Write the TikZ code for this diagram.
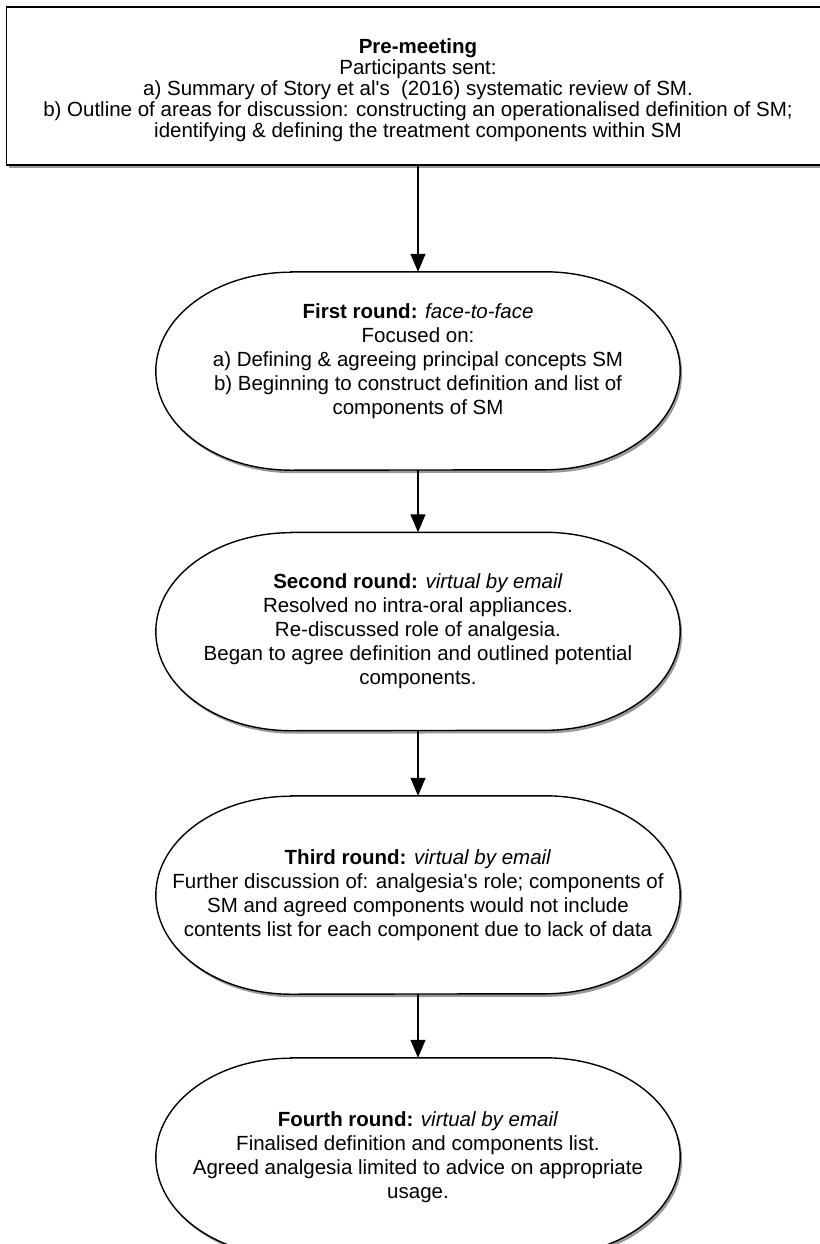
\documentclass[tikz,border=0pt]{standalone}
\usepackage{fontspec}
\setmainfont{Liberation Sans}
\usetikzlibrary{arrows.meta,shadows,backgrounds}

\tikzset{
  topbox/.style={draw, line width=1.4pt, fill=white, minimum width=823pt, minimum height=158pt,
    align=center, font=\fontsize{20.5}{21}\selectfont,
    drop shadow={shadow xshift=2pt, shadow yshift=-3pt, fill=black, opacity=0.4}},
  stagebox/.style={minimum width=524pt, minimum height=198pt, inner sep=0pt,
    align=center, font=\fontsize{20.5}{24}\selectfont},
  stageline/.style={draw, line width=1.4pt, fill=white,
    drop shadow={shadow xshift=2pt, shadow yshift=-3pt, fill=black, opacity=0.4}},
  flow/.style={line width=1.3pt, -{Triangle[length=18pt,width=15pt]}}
}

\begin{document}
\begin{tikzpicture}[x=1pt,y=-1pt]
    \useasboundingbox (0,0) rectangle (819,1244);

    % Подготовка
    \node[topbox] (pre) at (418,86) {\rule{0pt}{23pt}\textbf{Pre-meeting}\\
        Participants sent:\\
        a) Summary of Story et al\textquotesingle s~ (2016) systematic review of SM.\\
        b) Outline of areas for discussion: constructing an operationalised definition of SM;\\
        identifying \& defining the treatment components within SM};

    % Раунды
    \node[stagebox] (r1) at (418,371) {\textbf{First round:} \textit{face-to-face}\\
        Focused on:\\
        a) Defining \& agreeing principal concepts SM\\
        b) Beginning to construct definition and list of\\
        components of SM\\ \mbox{}};
    \node[stagebox] (r2) at (418,631.5) {\textbf{Second round:} \textit{virtual by email}\\
        Resolved no intra-oral appliances.\\
        Re-discussed role of analgesia.\\
        Began to agree definition and outlined potential\\
        components.};
    \node[stagebox] (r3) at (418,895) {\textbf{Third round:} \textit{virtual by email}\\
        Further discussion of: analgesia\textquotesingle s role; components of\\
        SM and agreed components would not include\\
        contents list for each component due to lack of data};
    \node[stagebox] (r4) at (418,1157) {\textbf{Fourth round:} \textit{virtual by email}\\
        Finalised definition and components list.\\
        Agreed analgesia limited to advice on appropriate\\
        usage.};

    % Контуры раундов
    \begin{scope}[on background layer]
        \foreach \r in {r1,r2,r3,r4}
            \path[stageline] ([xshift=135pt]\r.north west) -- ([xshift=-135pt]\r.north east)
                arc[start angle=90, end angle=-90, x radius=135pt, y radius=99pt]
                -- ([xshift=135pt]\r.south west)
                arc[start angle=270, end angle=90, x radius=135pt, y radius=99pt] -- cycle;
    \end{scope}

    % Стрелки
    \draw[flow] (pre.south) -- (r1.north);
    \draw[flow] (r1.south) -- (r2.north);
    \draw[flow] (r2.south) -- (r3.north);
    \draw[flow] (r3.south) -- (r4.north);
\end{tikzpicture}
\end{document}
